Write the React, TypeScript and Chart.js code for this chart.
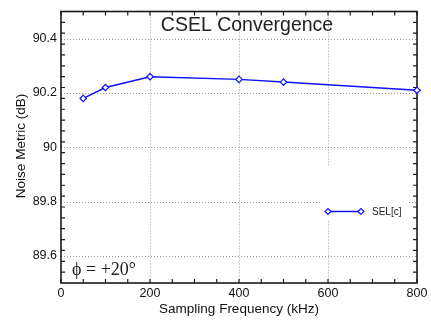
import React, { useEffect, useRef } from "react";
import { Chart, registerables } from "chart.js";

Chart.register(...registerables);

const freqs = [50, 100, 200, 400, 500, 800];
const selC = [90.18, 90.22, 90.26, 90.25, 90.24, 90.21];
const yMajorTicks = [89.6, 89.8, 90, 90.2, 90.4];
const xMajorTicks = [0, 200, 400, 600, 800];
const seriesLabel = "SEL[c]";
const chartTitle = "CSEL Convergence";
const xTitle = "Sampling Frequency (kHz)";
const yTitle = "Noise Metric (dB)";
const annotation = "\u03d5 = +20\u00b0";

const BLUE = "#1010ff";

const decor = {
  id: "decor",
  beforeDatasetsDraw(chart: any) {
    const { ctx, chartArea: a, scales } = chart;
    const xs = scales.x, ys = scales.y;
    ctx.save();
    // grid
    ctx.strokeStyle = "#9a9a9a";
    ctx.lineWidth = 1;
    ctx.setLineDash([1, 2]);
    for (const v of xMajorTicks.slice(1, -1)) {
      const px = Math.round(xs.getPixelForValue(v)) + 0.5;
      ctx.beginPath();
      ctx.moveTo(px, a.top);
      ctx.lineTo(px, a.bottom);
      ctx.stroke();
    }
    for (const v of yMajorTicks) {
      const py = Math.round(ys.getPixelForValue(v)) + 0.5;
      ctx.beginPath();
      ctx.moveTo(a.left, py);
      ctx.lineTo(a.right, py);
      ctx.stroke();
    }
    ctx.setLineDash([]);
    // legend background
    ctx.fillStyle = "#ffffff";
    ctx.fillRect(xs.getPixelForValue(582), ys.getPixelForValue(89.93), xs.getPixelForValue(782) - xs.getPixelForValue(582), ys.getPixelForValue(89.73) - ys.getPixelForValue(89.93));
    // frame
    ctx.strokeStyle = "#1a1a1a";
    ctx.lineWidth = 1.6;
    ctx.strokeRect(a.left, a.top, a.right - a.left, a.bottom - a.top);
    // ticks
    ctx.lineWidth = 1.2;
    ctx.beginPath();
    for (let v = 0; v <= 800; v += 50) {
      const px = xs.getPixelForValue(v);
      ctx.moveTo(px, a.bottom);
      ctx.lineTo(px, a.bottom - 4);
      ctx.moveTo(px, a.top);
      ctx.lineTo(px, a.top + 4);
    }
    for (let i = 1; i < 25; i++) {
      const v = 89.5 + i * 0.04;
      const py = ys.getPixelForValue(v);
      ctx.moveTo(a.left, py);
      ctx.lineTo(a.left + 4, py);
      ctx.moveTo(a.right, py);
      ctx.lineTo(a.right - 4, py);
    }
    ctx.stroke();
    // title
    ctx.fillStyle = "#222";
    ctx.font = "19.5px 'Liberation Sans', Arial, sans-serif";
    ctx.textAlign = "center";
    ctx.textBaseline = "alphabetic";
    ctx.fillText(chartTitle, 247, 31);
    // annotation
    ctx.font = "18px 'Liberation Serif', 'DejaVu Serif', 'Times New Roman', serif";
    ctx.textAlign = "left";
    ctx.fillText(annotation, 72, 275);
    // axis titles
    ctx.fillStyle = "#111";
    ctx.font = "13.5px 'Liberation Sans', Arial, sans-serif";
    ctx.textAlign = "center";
    ctx.fillText(xTitle, 239, 313);
    ctx.save();
    ctx.translate(25, 146);
    ctx.rotate(-Math.PI / 2);
    ctx.fillText(yTitle, 0, 0);
    ctx.restore();
    // legend
    const ly = 211.5;
    const lx1 = 328, lx2 = 361;
    ctx.strokeStyle = BLUE;
    ctx.lineWidth = 1.5;
    ctx.beginPath();
    ctx.moveTo(lx1, ly);
    ctx.lineTo(lx2, ly);
    ctx.stroke();
    for (const lx of [lx1, lx2]) {
      ctx.beginPath();
      ctx.moveTo(lx - 3, ly);
      ctx.lineTo(lx, ly - 3);
      ctx.lineTo(lx + 3, ly);
      ctx.lineTo(lx, ly + 3);
      ctx.closePath();
      ctx.fillStyle = "#fff";
      ctx.fill();
      ctx.lineWidth = 1.2;
      ctx.stroke();
    }
    ctx.fillStyle = "#222";
    ctx.font = "10px 'Liberation Sans', Arial, sans-serif";
    ctx.textAlign = "left";
    ctx.textBaseline = "middle";
    ctx.fillText(seriesLabel, 372, ly + 0.5);
    ctx.restore();
  },
};

export default function App() {
  const ref = useRef<HTMLCanvasElement>(null);
  useEffect(() => {
    document.body.style.margin = "0";
    const chart = new Chart(ref.current!, {
      type: "line",
      data: {
        datasets: [
          {
            label: seriesLabel,
            data: freqs.map((f, i) => ({ x: f, y: selC[i] })),
            borderColor: BLUE,
            borderWidth: 1.5,
            backgroundColor: "#ffffff",
            pointStyle: "rectRot",
            pointRadius: 3.2,
            pointBorderWidth: 1.2,
            pointBackgroundColor: "#ffffff",
            pointBorderColor: BLUE,
            tension: 0,
            clip: false as any,
          },
        ],
      },
      options: {
        responsive: false,
        animation: false,
        devicePixelRatio: 1,
        layout: { padding: { left: 0, top: 9.5, right: 14, bottom: 0 } },
        plugins: { legend: { display: false }, tooltip: { enabled: false }, title: { display: false } },
        scales: {
          x: {
            type: "linear",
            min: 0,
            max: 800,
            grid: { display: false, drawTicks: false },
            border: { display: false },
            afterFit: (s: any) => { s.height = 37; },
            afterBuildTicks: (s: any) => { s.ticks = xMajorTicks.map((v) => ({ value: v })); },
            ticks: {
              padding: 3,
              color: "#111",
              font: { family: "'Liberation Sans', Arial, sans-serif", size: 12.5 },
              maxRotation: 0,
              callback: (v: any) => String(v),
            },
          },
          y: {
            type: "linear",
            min: 89.5,
            max: 90.5,
            grid: { display: false, drawTicks: false },
            border: { display: false },
            afterFit: (s: any) => { s.width = 61; },
            afterBuildTicks: (s: any) => { s.ticks = yMajorTicks.map((v) => ({ value: v })); },
            ticks: {
              padding: 4,
              color: "#111",
              font: { family: "'Liberation Sans', Arial, sans-serif", size: 12.5 },
              callback: (v: any) => String(Number(Number(v).toFixed(1))),
            },
          },
        },
      },
      plugins: [decor],
    });
    return () => chart.destroy();
  }, []);
  return (
    <div style={{ width: 431, height: 320, background: "#fff" }}>
      <canvas ref={ref} width={431} height={320} />
    </div>
  );
}
